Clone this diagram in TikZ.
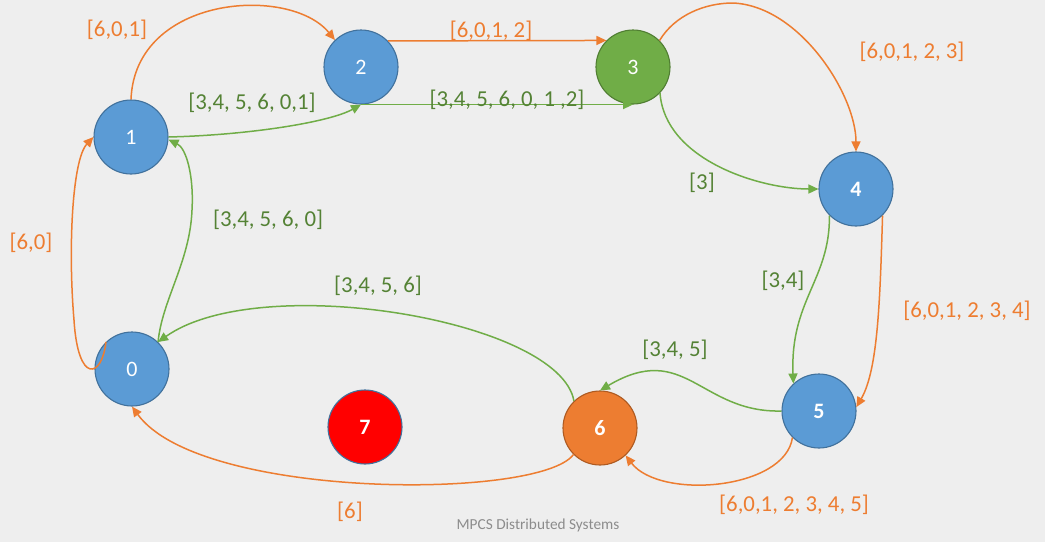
\documentclass[tikz,border=0pt]{standalone}
\usepackage{fontspec}
\setmainfont{Carlito}
\usetikzlibrary{arrows.meta}
\definecolor{bgc}{HTML}{EEEEEE}
\definecolor{nblue}{HTML}{5B9BD5}
\definecolor{nbluel}{HTML}{41719C}
\definecolor{ngreen}{HTML}{70AD47}
\definecolor{ngreenl}{HTML}{507E32}
\definecolor{norange}{HTML}{ED7D31}
\definecolor{norangel}{HTML}{AE5A21}
\definecolor{lgreen}{HTML}{548235}
\definecolor{footc}{HTML}{8C8C8C}
\tikzset{
  vtx/.style={circle, minimum size=74pt, inner sep=0pt, line width=1.1pt, text=white, font=\fontsize{22}{26}\selectfont},
  bluev/.style={vtx, fill=nblue, draw=nbluel},
  greenv/.style={vtx, fill=ngreen, draw=ngreenl},
  orangev/.style={vtx, fill=norange, draw=norangel},
  redv/.style={vtx, fill=red, draw=nbluel},
  boldv/.style={font=\fontsize{22}{26}\selectfont\bfseries},
  oedge/.style={draw=norange, line width=1.5pt, -{Triangle[length=10pt,width=9pt]}},
  gedge/.style={draw=ngreen, line width=1.5pt, -{Triangle[length=10pt,width=9pt]}},
  olab/.style={text=norange, font=\fontsize{22.8}{26}\selectfont, inner sep=0pt},
  glab/.style={text=lgreen, font=\fontsize{22.8}{26}\selectfont, inner sep=0pt},
}
\begin{document}
\begin{tikzpicture}[x=1pt,y=-1pt]
\fill[bgc] (0,0) rectangle (1045,542);
\useasboundingbox (0,0) rectangle (1045,542);
% nodes
\node[bluev] (n0) at (132,369) {0};
\node[bluev] (n1) at (131,137) {1};
\node[bluev] (n2) at (361,67) {2};
\node[greenv] (n3) at (633,67) {3};
\node[bluev,boldv] (n4) at (856,189) {4};
\node[bluev,boldv] (n5) at (819,411) {5};
\node[orangev,boldv] (n6) at (600,428) {6};
\node[redv,boldv] (n7) at (365,427) {7};
% edges
\path[oedge] (n1.north) .. controls (135,-5) and (290,-15) .. (n2.134);
\path[gedge] (n1.east) .. controls (250,135) and (330,122) .. (n2.south);
\path[oedge] (n2.44) -- (n3.135);
\path[gedge] (n2.south) -- (n3.south);
\coordinate (c34) at (733,3);
\path[oedge] (n3.45) .. controls (675,15) and (705,3) .. (c34) .. controls (800,6) and (856,95) .. (n4.north);
\path[gedge] (n3.-44) .. controls (665,160) and (760,189) .. (n4.west);
\path[gedge] (n4.225) .. controls (830,280) and (790,300) .. (n5.133);
\path[oedge] (n4.315) .. controls (880,300) and (878,370) .. (n5.6);
\path[gedge] (n5.west) .. controls (700,413) and (685,340) .. (n6.north);
\path[oedge] (n5.225) .. controls (785,490) and (660,500) .. (n6.-47);
\path[gedge] (n6.134) .. controls (560,320) and (260,270) .. (n0.46);
\path[oedge] (n6.225) .. controls (540,500) and (200,500) .. (n0.south);
\coordinate (c01) at (74,320);
\path[oedge] (n0.134) .. controls (102,378) and (78,385) .. (c01) .. controls (68,250) and (72,160) .. (n1.west);
\coordinate (c01g) at (192,210);
\path[gedge] (n0.46) .. controls (162,300) and (190,262) .. (c01g) .. controls (194,175) and (186,148) .. (n1.-4);
% labels
\node[olab] (l1) at (117,30) {[6,0,1]};
\node[glab] (l2) at (252,103) {[3,4, 5, 6, 0,1]};
\node[olab] (l3) at (491,31) {[6,0,1, 2]};
\node[glab] (l4) at (507,100) {[3,4, 5, 6, 0, 1 ,2]};
\node[olab] (l5) at (912,52) {[6,0,1, 2, 3]};
\node[glab] (l6) at (702,183) {[3]};
\node[olab] (l7) at (31,243) {[6,0]};
\node[glab] (l8) at (268,220) {[3,4, 5, 6, 0]};
\node[glab] (l9) at (378,286) {[3,4, 5, 6]};
\node[glab] (l10) at (783,281) {[3,4]};
\node[olab] (l11) at (967,311) {[6,0,1, 2, 3, 4]};
\node[glab] (l12) at (675,350) {[3,4, 5]};
\node[olab] (l13) at (794,505) {[6,0,1, 2, 3, 4, 5]};
\node[olab] (l14) at (350,512) {[6]};
\node[text=footc, font=\fontsize{15.3}{18}\selectfont, inner sep=0pt] (foot) at (538,525) {MPCS Distributed Systems};
\end{tikzpicture}
\end{document}
